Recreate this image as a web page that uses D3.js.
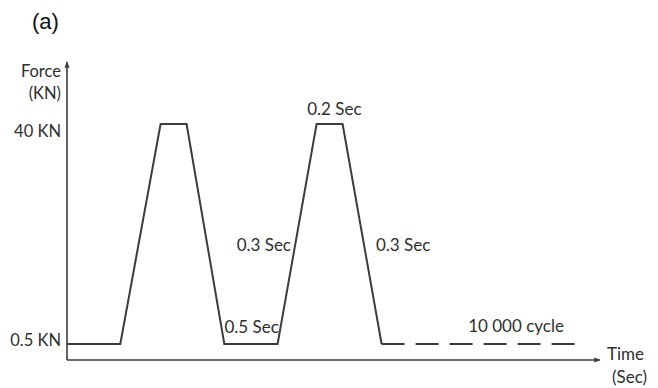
<!DOCTYPE html>
<html>
<head>
<meta charset="utf-8">
<script src="https://cdn.jsdelivr.net/npm/d3@7"></script>
<style>
  html, body { margin: 0; padding: 0; background: #fff; }
  svg { display: block; }
  .lbl { font-family: Lato, "Open Sans", sans-serif; fill: #2e2e2e; }
</style>
</head>
<body>
<svg id="chart" width="658" height="388"></svg>
<script>
// Load cycle: breakpoints of the trapezoidal force signal (time in s, force in kN)
const times  = [0, 0.41, 0.72, 0.92, 1.21, 1.62, 1.92, 2.12, 2.42];
const forces = [0.5, 0.5, 40, 40, 0.5, 0.5, 40, 40, 0.5];
// Repeated cycles continue as a dashed base line
const repeatTimes  = [2.42, 3.97];
const repeatForces = [0.5, 0.5];

const forceTickValues = [40, 0.5];
const forceTickLabels = ["40 KN", "0.5 KN"];

// Segment annotations: time, force, text, anchor
const noteTimes   = [2.057, 1.723, 2.377, 1.42, 3.454];
const noteForces  = [41.6, 17.2, 17.2, 2.5, 2.7];
const noteTexts   = ["0.2 Sec", "0.3 Sec", "0.3 Sec", "0.5 Sec", "10 000 cycle"];
const noteAnchors = ["middle", "end", "start", "middle", "middle"];

const svg = d3.select("#chart");
const ink = "#3c3c3c";

const x = d3.scaleLinear().domain([0, 4.1]).range([67, 600]);
const y = d3.scaleLinear().domain([0.5, 40]).range([344, 124]);

const axisY = 360, axisTop = 62;

// Panel tag
svg.append("text")
  .attr("x", 32).attr("y", 29)
  .style("font-family", "Arial, 'Liberation Sans', sans-serif")
  .style("font-size", "22px").style("fill", "#111")
  .text("(a)");

// Arrow markers
const defs = svg.append("defs");
defs.append("marker").attr("id", "arr")
  .attr("viewBox", "0 0 10 10").attr("refX", 9).attr("refY", 5)
  .attr("markerWidth", 4).attr("markerHeight", 4).attr("orient", "auto")
  .append("path").attr("d", "M0,1 L10,5 L0,9 Z").attr("fill", ink);

// Axis lines
svg.append("line")
  .attr("x1", x(0)).attr("x2", x(0)).attr("y1", axisY).attr("y2", axisTop)
  .attr("stroke", ink).attr("stroke-width", 1.6).attr("marker-end", "url(#arr)");
svg.append("line")
  .attr("x1", x(0)).attr("x2", x(4.1)).attr("y1", axisY).attr("y2", axisY)
  .attr("stroke", ink).attr("stroke-width", 1.6).attr("marker-end", "url(#arr)");

// Force tick labels (top label sits a little below its level, bottom one a little above)
const yAxis = d3.axisLeft(y)
  .tickValues(forceTickValues)
  .tickFormat((d, i) => forceTickLabels[i])
  .tickSize(0).tickPadding(6);
const gy = svg.append("g").attr("transform", `translate(${x(0)},0)`).call(yAxis);
gy.select(".domain").remove();
gy.selectAll("text").attr("class", "lbl")
  .style("font-size", "16.5px").attr("fill", null)
  .attr("dy", "0.36em")
  .attr("y", (d, i) => (i === 0 ? 7 : -4));

// Axis titles
svg.append("text").attr("class", "lbl").attr("text-anchor", "end")
  .attr("x", 61).attr("y", 77).style("font-size", "16.5px").text("Force");
svg.append("text").attr("class", "lbl").attr("text-anchor", "end")
  .attr("x", 61).attr("y", 99).style("font-size", "16.5px").text("(KN)");
svg.append("text").attr("class", "lbl")
  .attr("x", 607).attr("y", 360).style("font-size", "17px").text("Time");
svg.append("text").attr("class", "lbl")
  .attr("x", 612).attr("y", 383).style("font-size", "17px").text("(Sec)");

// Force signal
const line = d3.line().x(d => x(d[0])).y(d => y(d[1]));
svg.append("path")
  .datum(d3.zip(times, forces))
  .attr("d", line).attr("fill", "none")
  .attr("stroke", ink).attr("stroke-width", 2).attr("stroke-linejoin", "miter");

svg.append("path")
  .datum(d3.zip(repeatTimes, repeatForces))
  .attr("d", line).attr("fill", "none")
  .attr("stroke", ink).attr("stroke-width", 2)
  .attr("stroke-dasharray", "23,11");

// Annotations
svg.selectAll("text.note")
  .data(d3.range(noteTexts.length))
  .join("text").attr("class", "lbl note")
  .attr("x", i => x(noteTimes[i]))
  .attr("y", i => y(noteForces[i]))
  .attr("text-anchor", i => noteAnchors[i])
  .style("font-size", "17px")
  .text(i => noteTexts[i]);
</script>
</body>
</html>
